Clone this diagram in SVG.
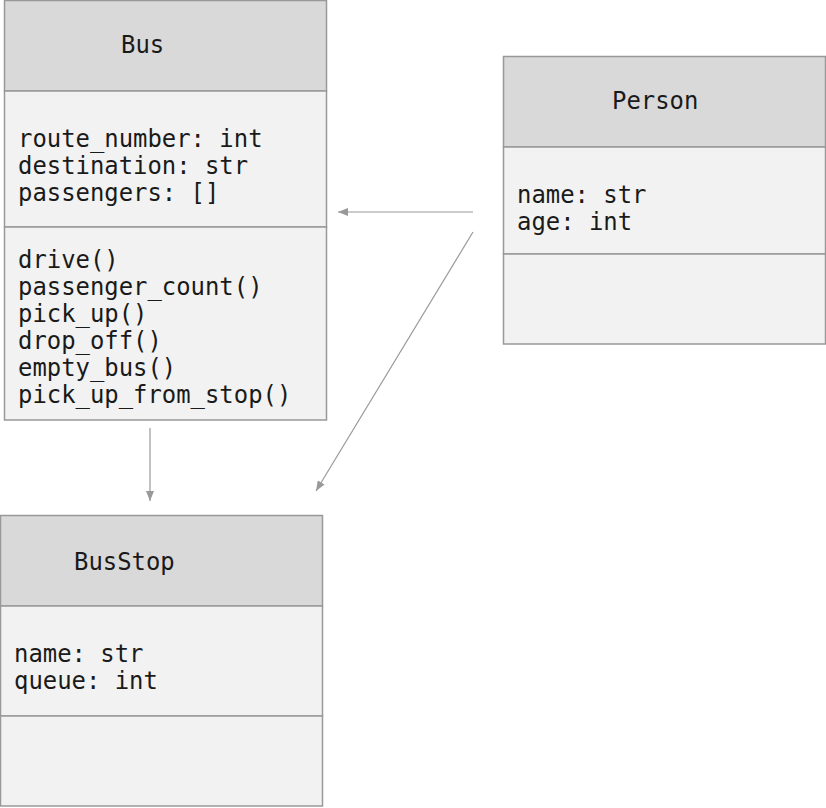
<svg xmlns="http://www.w3.org/2000/svg" width="826" height="808" viewBox="0 0 826 808">
<style>
.hdr{fill:#d9d9d9;stroke:#999;stroke-width:1.5}
.bdy{fill:#f2f2f2;stroke:#999;stroke-width:1.5}
text{font-family:"DejaVu Sans Mono","Liberation Mono",monospace;font-size:23.9px;fill:#1a1a1a}
.conn{stroke:#999;stroke-width:1.2;fill:none}
</style>
<defs>
<marker id="ah" markerWidth="10" markerHeight="8" refX="10" refY="4" orient="auto" markerUnits="userSpaceOnUse">
<path d="M0,0 L10,4 L0,8 Z" fill="#999"/>
</marker>
</defs>
<rect width="826" height="808" fill="#fff"/>
<g id="Bus">
<rect class="hdr" x="4.5" y="0.5" width="322" height="90.5"/>
<rect class="bdy" x="4.5" y="91" width="322" height="136"/>
<rect class="bdy" x="4.5" y="227" width="322" height="193"/>
<text x="121" y="53">Bus</text>
<text x="18" y="147">route_number: int</text>
<text x="18" y="174">destination: str</text>
<text x="18" y="201">passengers: []</text>
<text x="18" y="268">drive()</text>
<text x="18" y="295">passenger_count()</text>
<text x="18" y="322">pick_up()</text>
<text x="18" y="349">drop_off()</text>
<text x="18" y="376">empty_bus()</text>
<text x="18" y="403">pick_up_from_stop()</text>
</g>
<g id="Person">
<rect class="hdr" x="503.5" y="56.5" width="322" height="90.5"/>
<rect class="bdy" x="503.5" y="147" width="322" height="107"/>
<rect class="bdy" x="503.5" y="254" width="322" height="90"/>
<text x="612" y="109">Person</text>
<text x="517" y="203">name: str</text>
<text x="517" y="230">age: int</text>
</g>
<g id="BusStop">
<rect class="hdr" x="0.5" y="515.5" width="322" height="90.5"/>
<rect class="bdy" x="0.5" y="606" width="322" height="110"/>
<rect class="bdy" x="0.5" y="716" width="322" height="90"/>
<text x="74" y="570">BusStop</text>
<text x="14" y="662">name: str</text>
<text x="14" y="689">queue: int</text>
</g>
<g id="connectors">
<line class="conn" x1="473" y1="212" x2="338" y2="212" marker-end="url(#ah)"/>
<line class="conn" x1="473" y1="232" x2="316" y2="491" marker-end="url(#ah)"/>
<line class="conn" x1="150" y1="428" x2="150" y2="501" marker-end="url(#ah)"/>
</g>
</svg>
